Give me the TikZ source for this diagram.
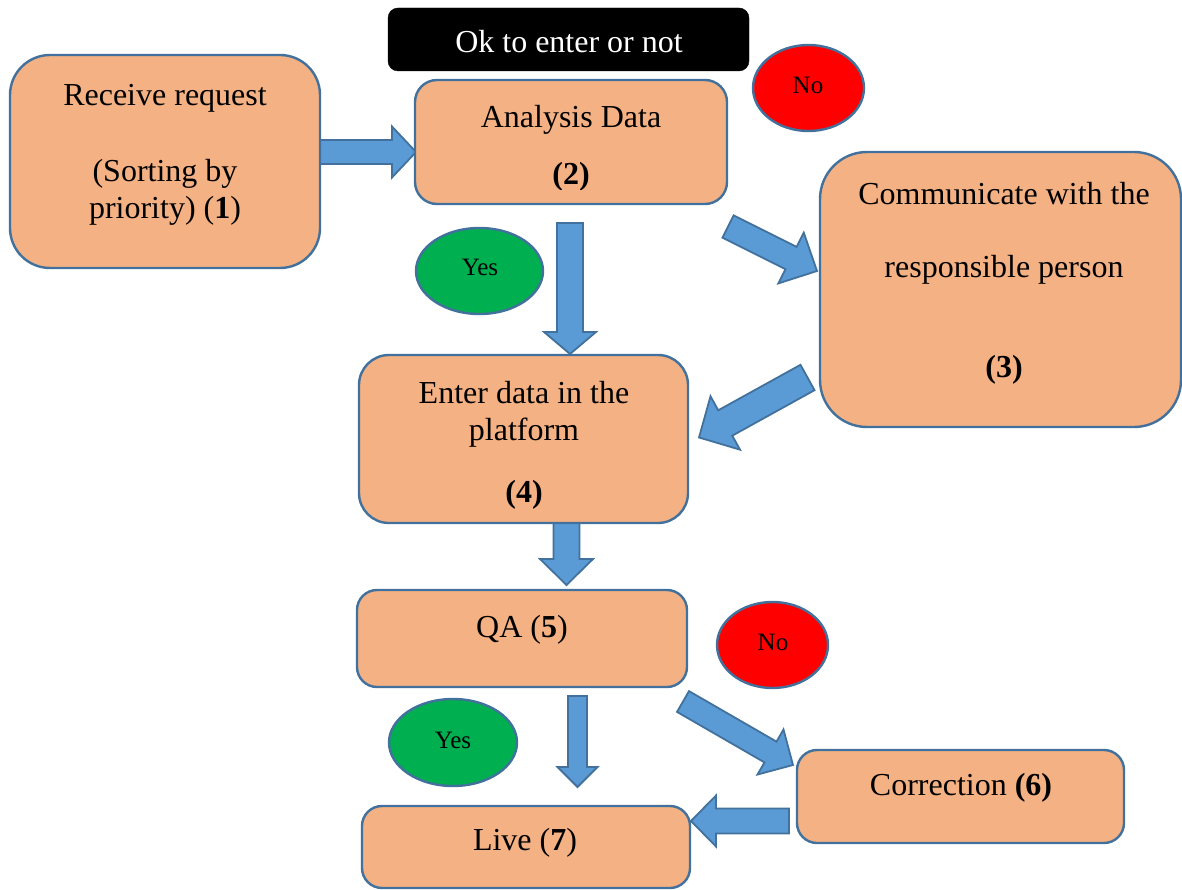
\documentclass[tikz,border=0pt]{standalone}
\usepackage{fontspec}
\setmainfont{Liberation Serif}
\usetikzlibrary{calc,shapes.geometric}

\definecolor{boxfill}{HTML}{F4B183}
\definecolor{edgeblue}{HTML}{41719C}
\definecolor{arrowfill}{HTML}{5B9BD5}
\definecolor{noRed}{HTML}{FF0000}
\definecolor{yesGreen}{HTML}{00B050}

\newcommand\boxfont{\fontsize{32}{38}\selectfont}
\newcommand\tagfont{\fontsize{25}{30}\selectfont}

% block arrow: #1 tail, #2 tip, #3 shaft half width, #4 head half width, #5 head length
\newcommand\blockarrow[5]{%
  \path[blockarrow] let \p1=($(#2)-(#1)$), \n1={veclen(\x1,\y1)}, \n2={atan2(\y1,\x1)} in
    [shift={(#1)}, rotate=\n2]
    (0,-#3) -- (\n1-#5,-#3) -- (\n1-#5,-#4) -- (\n1,0) -- (\n1-#5,#4) -- (\n1-#5,#3) -- (0,#3) -- cycle;
}

\tikzset{
  stepbox/.style={draw=edgeblue, fill=boxfill, line width=2.4pt, rectangle, inner sep=0pt},
  headbox/.style={draw=black, fill=black, rectangle, rounded corners=10pt, inner sep=0pt},
  answer/.style={draw=edgeblue, line width=2.4pt, ellipse, inner sep=0pt},
  blockarrow/.style={draw=edgeblue, fill=arrowfill, line width=1.8pt, line join=miter},
  txt/.style={anchor=base, inner sep=0pt, font=\boxfont},
  tag/.style={anchor=base, inner sep=0pt, font=\tagfont},
}

\begin{document}
\begin{tikzpicture}[x=1pt, y=-1pt]
\useasboundingbox (0,0) rectangle (1182,890);

% arrow end points
\coordinate (a1s) at (320,152);   \coordinate (a1e) at (416,152);
\coordinate (a2s) at (570,223);   \coordinate (a2e) at (570,354);
\coordinate (a3s) at (728,226.5); \coordinate (a3e) at (817,271);
\coordinate (a4s) at (807.5,377.5); \coordinate (a4e) at (699,437.5);
\coordinate (a5s) at (566.5,523); \coordinate (a5e) at (566.5,585);
\coordinate (a6s) at (577.5,696); \coordinate (a6e) at (577.5,787);
\coordinate (a7s) at (683,701.5); \coordinate (a7e) at (793,765);
\coordinate (a8s) at (789,821);   \coordinate (a8e) at (691,821);

% block arrows
\blockarrow{a1s}{a1e}{12}{25.5}{24}
\blockarrow{a2s}{a2e}{13}{26}{22}
\blockarrow{a3s}{a3e}{12.5}{28.4}{29}
\blockarrow{a4s}{a4e}{14.5}{30.5}{30}
\blockarrow{a5s}{a5e}{13}{26.5}{26}
\blockarrow{a6s}{a6e}{9.5}{20}{20}
\blockarrow{a7s}{a7e}{12}{26}{26}
\blockarrow{a8s}{a8e}{12.5}{25.5}{25}

% header
\node[headbox, minimum width=361pt, minimum height=63pt] (ok) at (568.5,39.5) {};
\node[txt, text=white] (tok) at (569,53) {Ok to enter or not};

% process steps
\node[stepbox, rounded corners=40pt, minimum width=310pt, minimum height=213pt] (b1) at (165,161.5) {};
\node[stepbox, rounded corners=22pt, minimum width=312pt, minimum height=124pt] (b2) at (571,142) {};
\node[stepbox, rounded corners=47pt, minimum width=361pt, minimum height=275pt] (b3) at (1000.5,289.5) {};
\node[stepbox, rounded corners=30pt, minimum width=329pt, minimum height=168pt] (b4) at (523.5,439) {};
\node[stepbox, rounded corners=20pt, minimum width=330pt, minimum height=97pt] (b5) at (522,638.5) {};
\node[stepbox, rounded corners=20pt, minimum width=327pt, minimum height=93pt] (b6) at (960.5,796.5) {};
\node[stepbox, rounded corners=20pt, minimum width=328pt, minimum height=82pt] (b7) at (526,847) {};

\node[txt] (t1a) at (165,106) {Receive request};
\node[txt] (t1b) at (165,182) {(Sorting by};
\node[txt] (t1c) at (165,219) {priority) (\textbf{1})};

\node[txt] (t2a) at (571,128) {Analysis Data};
\begin{scope}
  \clip (b2.north west) rectangle ($(b2.south east)+(0,-16)$);
  \node[txt] (t2b) at (571,185) {\textbf{(2)}};
\end{scope}

\node[txt] (t3a) at (1004,205) {Communicate with the};
\node[txt] (t3b) at (1004,278) {responsible person};
\node[txt] (t3c) at (1004,377) {\textbf{(3)}};

\node[txt] (t4a) at (524,403) {Enter data in the};
\node[txt] (t4b) at (524,440) {platform};
\node[txt] (t4c) at (524,502) {\textbf{(4)}};

\node[txt] (t5) at (522,637) {QA (\textbf{5})};
\node[txt] (t6) at (961,795) {Correction \textbf{(6)}};
\node[txt] (t7) at (525,850) {Live (\textbf{7})};

% decision tags
\node[answer, fill=noRed, minimum width=111pt, minimum height=86pt] (no1) at (808.5,88) {};
\node[answer, fill=noRed, minimum width=111pt, minimum height=86pt] (no2) at (772.5,645) {};
\node[answer, fill=yesGreen, minimum width=127pt, minimum height=86pt] (yes1) at (479.5,271) {};
\node[answer, fill=yesGreen, minimum width=128pt, minimum height=87pt] (yes2) at (453,742.5) {};

\node[tag] (tno1) at (808,94) {No};
\node[tag] (tno2) at (773,650) {No};
\node[tag] (tyes1) at (480,276) {Yes};
\node[tag] (tyes2) at (453,748) {Yes};
\end{tikzpicture}
\end{document}
